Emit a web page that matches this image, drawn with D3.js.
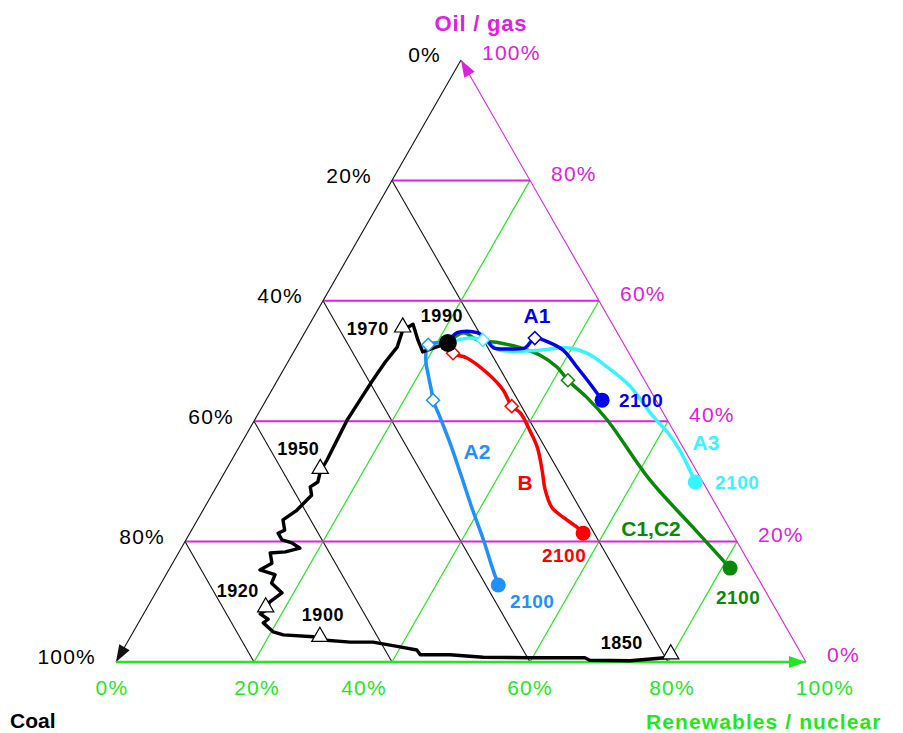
<!DOCTYPE html>
<html>
<head>
<meta charset="utf-8">
<script src="https://cdn.jsdelivr.net/npm/d3@7"></script>
<style>
  body { margin: 0; background: #fff; }
  svg text { font-family: "Liberation Sans", Arial, sans-serif; }
</style>
</head>
<body>
<svg id="chart" width="903" height="733"></svg>
<script>
// ternary values are [oil/gas %, renewables/nuclear %], coal = 100 - both

const gridLevels = [20, 40, 60, 80];
const tickValues = [0, 20, 40, 60, 80, 100];
const tickLabels = ["0%", "20%", "40%", "60%", "80%", "100%"];

// history 1850 -> 1990
const history = [
  [0.8, 80.0], [0.2, 74.4], [0.3, 68.5], [0.7, 67.6], [0.7, 59.7], [0.8, 52.8],
  [1.2, 47.8], [1.2, 43.5], [2.0, 42.6], [2.5, 39.9], [3.3, 35.6], [3.3, 32.3],
  [3.7, 27.7], [4.2, 26.5], [4.5, 22.0], [5.0, 20.3], [6.5, 18.1], [7.1, 18.5],
  [8.0, 16.9], [8.6, 17.4], [10.0, 17.3], [11.5, 18.3], [13.1, 16.0], [14.5, 15.8],
  [15.3, 13.2], [16.4, 14.4], [18.1, 13.3], [18.3, 15.4], [18.9, 17.2], [19.8, 15.6],
  [20.3, 13.9], [21.4, 12.8], [21.9, 13.5], [23.6, 12.4], [25.2, 13.6], [27.7, 14.5],
  [29.1, 13.6], [29.9, 14.3], [31.6, 13.8], [33.6, 13.8], [36.9, 13.6], [40.2, 13.4],
  [43.5, 13.6], [46.8, 13.8], [49.8, 14.1], [52.3, 14.6], [55.1, 14.0], [56.1, 15.0],
  [53.5, 17.0], [51.5, 18.7], [53.0, 21.6]
];
const historyYears = [1850, 1900, 1920, 1950, 1970];
const historyYearPoints = [[0.8, 80.0], [3.7, 27.7], [8.6, 17.4], [31.6, 13.8], [55.1, 14.0]];
const point1990 = [53.0, 21.6];

// scenarios 1990 -> 2100
const scenarioA1 = [[53.0, 21.6], [54.7, 22.1], [54.7, 25.0], [53.5, 27.0], [52.2, 28.6], [52.0, 31.1],
  [52.2, 33.2], [53.8, 33.8], [53.2, 35.9], [51.8, 38.9], [49.0, 42.3], [46.3, 45.5], [43.5, 48.7]];
const scenarioA2 = [[53.0, 21.6], [52.7, 18.9], [50.2, 19.8], [47.7, 21.4], [45.2, 23.1], [43.5, 24.2],
  [40.7, 26.6], [36.4, 30.2], [31.4, 34.2], [25.2, 39.1], [20.3, 43.1], [15.8, 46.6], [12.8, 49.0]];
const scenarioA3 = [[53.0, 21.6], [53.8, 24.1], [53.5, 26.4], [51.8, 29.7], [51.8, 35.5], [52.2, 39.3],
  [51.3, 42.6], [49.0, 46.7], [45.8, 51.6], [41.0, 57.2], [38.2, 60.8], [35.2, 64.1], [29.9, 69.0]];
const scenarioB = [[53.0, 21.6], [51.3, 23.2], [50.5, 25.6], [48.0, 29.8], [45.2, 33.5], [42.5, 36.1],
  [41.4, 37.9], [38.5, 40.7], [35.7, 43.2], [31.9, 45.8], [28.6, 47.9], [25.7, 50.3], [24.1, 52.7],
  [22.4, 55.6], [21.4, 57.0]];
const scenarioC = [[53.0, 21.6], [54.7, 23.0], [53.5, 25.6], [53.0, 29.2], [52.2, 32.5], [51.0, 35.9],
  [49.0, 39.4], [46.8, 42.1], [44.0, 46.2], [40.2, 51.1], [30.2, 62.3], [22.4, 72.4], [15.6, 81.2]];

// intermediate milestones (hollow markers)
const milestonesA1 = [[53.8, 33.8]];
const milestonesA2 = [[52.7, 18.9], [43.5, 24.2]];
const milestonesA3 = [[53.5, 26.4]];
const milestonesB = [[51.3, 23.2], [42.5, 36.1]];
const milestonesC = [[46.8, 42.1]];

const colors = {
  "A1": "#0000f0", "A2": "#1e90ff", "A3": "#38f4ff", "B": "#ff0000", "C1,C2": "#0a880a"
};
const magenta = "#e020e0", green = "#1ee81e";

const svg = d3.select("#chart");

const xScale = d3.scaleLinear().domain([0, 100]).range([116, 806]);
const yScale = d3.scaleLinear().domain([0, 100]).range([662, 60]);
const px = d => xScale(d[1] + d[0] / 2);
const py = d => yScale(d[0]);
const line = d3.line().x(px).y(py);

const grid = svg.append("g");

// coal lines (black)
gridLevels.forEach(c => {
  grid.append("path").attr("d", line([[100 - c, 0], [0, 100 - c]]))
    .attr("stroke", "#111").attr("stroke-width", 1.1).attr("fill", "none");
});
// renewables lines (green)
gridLevels.forEach(r => {
  grid.append("path").attr("d", line([[0, r], [100 - r, r]]))
    .attr("stroke", green).attr("stroke-width", 1.2).attr("fill", "none");
});
// oil lines (magenta)
gridLevels.forEach(o => {
  grid.append("path").attr("d", line([[o, 0], [o, 100 - o]]))
    .attr("stroke", magenta).attr("stroke-width", 2).attr("fill", "none");
});

// triangle edges with arrowheads
function edge(from, to, color, width) {
  grid.append("path").attr("d", line([from, to]))
    .attr("stroke", color).attr("stroke-width", width).attr("fill", "none");
  const x0 = px(from), y0 = py(from), x1 = px(to), y1 = py(to);
  const len = Math.hypot(x1 - x0, y1 - y0);
  const ux = (x1 - x0) / len, uy = (y1 - y0) / len;
  const L = 17, W = 6;
  const bx = x1 - L * ux, by = y1 - L * uy;
  grid.append("path")
    .attr("d", `M${x1},${y1} L${bx - W * uy},${by + W * ux} L${bx + W * uy},${by - W * ux} Z`)
    .attr("fill", color);
}
edge([100, 0], [0, 0], "#111", 1.1);
edge([0, 100], [100, 0], magenta, 1.1);
edge([0, 0], [0, 100], green, 2.5);

// tick labels
const tickFont = g => g.attr("font-size", 21).attr("letter-spacing", 1.2);
const bottomShift = [-4, 3, -28, 0, 4, 19];

svg.append("g").call(tickFont).selectAll("text")
  .data(tickValues).join("text")
  .attr("x", v => px([100 - v, 0]) - 20)
  .attr("y", v => py([100 - v, 0]) - 5)
  .attr("dy", "0.35em")
  .attr("text-anchor", "end")
  .attr("fill", "#000")
  .text((v, i) => tickLabels[i]);

svg.append("g").call(tickFont).selectAll("text")
  .data(tickValues).join("text")
  .attr("x", v => px([v, 100 - v]) + 21)
  .attr("y", v => py([v, 100 - v]) - 7)
  .attr("dy", "0.35em")
  .attr("fill", magenta)
  .text((v, i) => tickLabels[i]);

svg.append("g").call(tickFont).selectAll("text")
  .data(tickValues).join("text")
  .attr("x", (v, i) => px([0, v]) + bottomShift[i])
  .attr("y", yScale(0) + 26)
  .attr("dy", "0.35em")
  .attr("text-anchor", "middle")
  .attr("fill", green)
  .text((v, i) => tickLabels[i]);

// axis titles
svg.append("text").attr("x", 481).attr("y", 23).attr("dy", "0.35em")
  .attr("text-anchor", "middle").attr("font-size", 22).attr("font-weight", "bold")
  .attr("letter-spacing", 0.8).attr("fill", magenta).text("Oil / gas");
svg.append("text").attr("x", 10).attr("y", 721).attr("dy", "0.35em")
  .attr("font-size", 21).attr("font-weight", "bold").attr("fill", "#000").text("Coal");
svg.append("text").attr("x", 646).attr("y", 722).attr("dy", "0.35em")
  .attr("font-size", 21).attr("font-weight", "bold").attr("letter-spacing", 1.1)
  .attr("fill", green).text("Renewables / nuclear");

// scenario lines
const scenarios = [
  { name: "C1,C2", pts: scenarioC, ms: milestonesC },
  { name: "A3", pts: scenarioA3, ms: milestonesA3 },
  { name: "A1", pts: scenarioA1, ms: milestonesA1 },
  { name: "B", pts: scenarioB, ms: milestonesB },
  { name: "A2", pts: scenarioA2, ms: milestonesA2 }
];
const curve = d3.line().x(px).y(py).curve(d3.curveCatmullRom.alpha(0.5));

scenarios.forEach(s => {
  svg.append("path").attr("d", curve(s.pts))
    .attr("fill", "none").attr("stroke", colors[s.name])
    .attr("stroke-width", 3.5).attr("stroke-linejoin", "round").attr("stroke-linecap", "round");
});

// history
svg.append("path").attr("d", line(history))
  .attr("fill", "none").attr("stroke", "#000")
  .attr("stroke-width", 3.4).attr("stroke-linejoin", "round");

// milestone markers and 2100 end points
const diamond = d3.symbol(d3.symbolSquare, 85);
scenarios.forEach(s => {
  svg.append("g").selectAll("path").data(s.ms).join("path")
    .attr("d", diamond)
    .attr("transform", d => `translate(${px(d)},${py(d)}) rotate(45)`)
    .attr("fill", "#fff").attr("stroke", colors[s.name]).attr("stroke-width", 1.5);
  const end = s.pts[s.pts.length - 1];
  svg.append("circle").attr("cx", px(end)).attr("cy", py(end)).attr("r", 7.5)
    .attr("fill", colors[s.name]);
});

svg.append("g").selectAll("path").data(historyYearPoints).join("path")
  .attr("d", d3.symbol(d3.symbolTriangle, 115))
  .attr("transform", d => `translate(${px(d)},${py(d) - 3})`)
  .attr("fill", "#fff").attr("stroke", "#000").attr("stroke-width", 1.2);

svg.append("circle").attr("cx", px(point1990)).attr("cy", py(point1990)).attr("r", 9)
  .attr("fill", "#000");

// year labels
const yearOffsets = { 1850: [-49, -14], 1900: [3, -25], 1920: [-28, -20], 1950: [-22, -23], 1970: [-35, -2] };
svg.append("g").selectAll("text").data(historyYears).join("text")
  .attr("x", (yr, i) => px(historyYearPoints[i]) + yearOffsets[yr][0])
  .attr("y", (yr, i) => py(historyYearPoints[i]) + yearOffsets[yr][1])
  .attr("dy", "0.35em").attr("text-anchor", "middle")
  .attr("font-size", 18).attr("font-weight", "bold").attr("letter-spacing", 0.5).text(yr => yr);
svg.append("text").attr("x", px(point1990) - 6).attr("y", py(point1990) - 27)
  .attr("dy", "0.35em").attr("text-anchor", "middle")
  .attr("font-size", 18).attr("font-weight", "bold").attr("letter-spacing", 0.5).text("1990");

// scenario labels
const namePos = { "A1": [537, 316], "A2": [477, 452], "A3": [706, 443], "B": [525, 483], "C1,C2": [651, 529] };
const endLabelOffset = { "A1": [39, 0], "A2": [34, 16], "A3": [42, 0], "B": [-19, 22], "C1,C2": [8, 29] };
scenarios.forEach(s => {
  svg.append("text").attr("x", namePos[s.name][0]).attr("y", namePos[s.name][1])
    .attr("dy", "0.35em").attr("text-anchor", "middle")
    .attr("font-size", 21).attr("font-weight", "bold").attr("fill", colors[s.name])
    .text(s.name);
  const end = s.pts[s.pts.length - 1];
  svg.append("text")
    .attr("x", px(end) + endLabelOffset[s.name][0])
    .attr("y", py(end) + endLabelOffset[s.name][1])
    .attr("dy", "0.35em").attr("text-anchor", "middle")
    .attr("font-size", 19).attr("font-weight", "bold").attr("letter-spacing", 0.5)
    .attr("fill", colors[s.name])
    .text("2100");
});
</script>
</body>
</html>
